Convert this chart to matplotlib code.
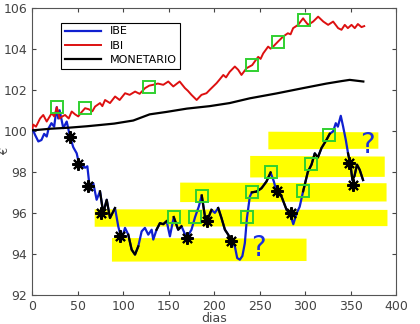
import numpy as np
import matplotlib
matplotlib.use("Agg")
import matplotlib.pyplot as plt

# IBE (blue)
ibe_d = [0, 3, 6.6, 10, 13, 15.8, 18, 21, 24, 26.8, 28.5, 30, 34, 37.8, 41.4, 45, 48.8, 51, 55, 58,
         60.5, 63.4, 67, 70.7, 74.4, 78, 81.8, 85.4, 90.9, 94.5, 98.2, 101.9, 105.5, 109.2, 112.9,
         116.5, 120.2, 123.8, 127.5, 131.2, 133, 136.6, 140.3, 144, 147.7, 151.3, 155.5, 160.4, 164,
         169.7, 175, 179, 183, 186.3, 189.8, 193, 197, 200.7, 204.4, 208, 211.8, 215.4, 219, 222.7,
         225.3, 228.2, 231, 233.7, 236, 239.2, 241.4, 246.6, 252, 257.5, 262, 265.6, 268.5, 274,
         279.6, 283, 287, 290.8, 294, 297.8, 303, 307, 310.6, 314, 318, 323.5, 327, 330.8, 333.7,
         336, 339.2, 341.8, 344.7, 347.2, 350, 352, 354.3, 357, 360, 363.7]
ibe_v = [100.1, 99.8, 99.48, 99.55, 99.85, 99.72, 100.13, 100.37, 100.2, 101.15, 100.6, 101.0, 100.13,
         100.45, 99.72, 99.2, 98.9, 98.45, 98.3, 98.2, 98.27, 97.1, 97.45, 96.64, 97.05, 96.0, 96.64,
         95.75, 96.24, 95.34, 94.7, 95.27, 94.94, 94.21, 93.97, 94.37, 95.1, 95.27, 94.94, 95.18, 94.7,
         95.18, 95.5, 95.45, 95.6, 94.86, 95.8, 95.18, 95.35, 94.78, 95.18, 95.8, 96.3, 96.85, 95.83,
         95.7, 96.15, 96.0, 96.24, 95.75, 95.18, 94.94, 94.6, 94.37, 93.8, 93.72, 93.9, 94.53, 95.75,
         96.8, 97.0, 97.04, 97.2, 97.53, 97.97, 97.53, 97.04, 96.8, 96.15, 96.0, 95.45, 96.0, 96.3,
         97.05, 98.0, 98.35, 98.9, 98.7, 99.16, 99.56, 99.85, 99.97, 100.37, 100.2, 100.73, 100.2,
         99.56, 98.9, 98.3, 97.6, 97.8, 98.35, 98.1, 97.6]

# IBI (red)
ibi_d = [0, 1, 4, 8.5, 12, 15.8, 21.3, 24, 27, 30, 33, 36, 40, 43.3, 47, 50.5, 54, 58, 62, 66, 69,
         74.4, 77, 80, 85.4, 91, 96, 102, 107, 113, 118, 124, 128.6, 133, 138, 144, 149.5, 155, 162,
         167.8, 171, 175, 180.7, 186, 191.5, 195, 202.6, 206, 210, 213, 217, 222.7, 226.4, 230, 235.6,
         241.8, 245, 248.4, 251, 253.9, 259.3, 262, 264.8, 270.3, 275.8, 281, 284, 286.8, 292.3,
         297.8, 299, 303.3, 308.8, 314.3, 320, 325.3, 330.8, 336.3, 340, 343.6, 347, 351, 354.6, 358,
         362, 365]
ibi_v = [100.1, 100.3, 100.2, 100.6, 100.77, 100.45, 100.86, 100.7, 101.15, 100.6, 100.7, 100.77, 100.6,
         100.94, 100.8, 100.7, 100.9, 101.1, 101.05, 100.95, 101.18, 101.35, 101.2, 101.5, 101.35,
         101.67, 101.5, 101.83, 101.75, 101.91, 101.8, 102.08, 102.2, 102.24, 102.3, 102.24, 102.4,
         102.16, 102.4, 102.08, 101.95, 101.75, 101.5, 101.75, 101.83, 101.99, 102.32, 102.5, 102.72,
         102.6, 102.87, 103.13, 102.97, 102.72, 103.05, 103.2, 103.4, 103.6, 103.5, 103.77, 104.1,
         104.0, 104.1, 104.35, 104.59, 104.75, 104.7, 105.0, 105.16, 105.48, 105.4, 105.16, 105.32,
         105.56, 105.32, 105.16, 105.32, 105.0, 104.92, 105.16, 105.0, 105.16, 105.0, 105.2, 105.05,
         105.1]

# MONETARIO (black)
mon_d = [0, 20, 40, 60, 74, 90, 111, 129, 147.7, 170, 195, 217, 239, 268.6, 298, 323.5, 340, 349, 364]
mon_v = [100.02, 100.1, 100.15, 100.22, 100.28, 100.35, 100.5, 100.8, 100.92, 101.08, 101.2, 101.35,
         101.58, 101.82, 102.08, 102.3, 102.42, 102.48, 102.4]

# day ranges where the IBE line is drawn over in black
black_ranges = [(74, 93), (105, 118), (136, 150), (155, 166), (172, 176), (185, 200), (203, 220),
                (240, 262), (266, 286), (296, 327), (346, 366)]

# green squares
sq_d = [26.8, 58, 128.6, 241.8, 270.3, 299, 155.5, 179, 186.3, 236, 241.4, 262, 297.8, 307, 326]
sq_v = [101.15, 101.1, 102.15, 103.2, 104.33, 105.4, 95.8, 95.8, 96.8, 95.78, 97.0, 98.0, 97.07, 98.37, 99.8]

# black asterisks
ast_d = [41.4, 50.5, 61.5, 76, 96.4, 169.7, 191.6, 218, 269, 284, 348, 352.3]
ast_v = [99.7, 98.4, 97.3, 96.0, 94.85, 94.78, 95.6, 94.63, 97.05, 96.0, 98.43, 97.35]

# yellow highlighter bands: x0, x1, low, high
bands = [(259, 380, 99.12, 99.98), (239, 387, 97.75, 98.8), (162, 389, 96.55, 97.5),
         (68, 390, 95.35, 96.2), (87, 301, 93.65, 94.8)]

# hand-written question marks
qm_d = [249, 368]
qm_v = [94.3, 99.3]

fig = plt.figure(figsize=(4.2, 3.24), dpi=100)
ax = fig.add_axes([0.077, 0.0895, 0.866, 0.887])

for x0, x1, lo, hi in bands:
    ax.fill_between([x0, x1], [lo, lo + 0.03], [hi, hi - 0.03], color="#ffff00", lw=0, zorder=1)

ax.plot(ibe_d, ibe_v, color="#1020d0", lw=1.6, label="IBE", zorder=3)
ax.plot(ibi_d, ibi_v, color="#dd1010", lw=1.4, label="IBI", zorder=3)
ax.plot(mon_d, mon_v, color="black", lw=1.6, label="MONETARIO", zorder=3)

d = np.array(ibe_d)
v = np.array(ibe_v)
mask = np.zeros(len(d), dtype=bool)
for a, b in black_ranges:
    mask |= (d >= a) & (d <= b)
ax.plot(d, np.where(mask, v, np.nan), color="black", lw=1.6, zorder=4)

ax.plot(sq_d, sq_v, ls="none", marker="s", ms=8, mfc="none", mec="#30d030", mew=1.4, zorder=5)
ax.plot(ast_d, ast_v, ls="none", marker=(8, 2, 0), ms=9, color="black", mew=1.5, zorder=5)

for x, y in zip(qm_d, qm_v):
    ax.text(x, y, "?", color="#1a2fe0", fontsize=20, ha="center", va="center", zorder=6)

ax.set_xlim(0, 400)
ax.set_ylim(92, 106)
ax.set_xticks(range(0, 401, 50))
ax.set_yticks(range(92, 107, 2))
ax.tick_params(direction="in", top=True, right=True, length=3, labelsize=9, colors="#444444")
for s in ax.spines.values():
    s.set_color("#555555")
ax.set_xlabel("dias", fontsize=9, color="#444444")
ax.xaxis.set_label_coords(0.5, -0.058)
ax.set_ylabel("€", fontsize=8, color="#444444")
ax.yaxis.set_label_coords(-0.06, 0.5)

leg = ax.legend(loc="upper left", bbox_to_anchor=(0.079, 0.948), borderaxespad=0, fontsize=8,
                handlelength=3.2, fancybox=False, edgecolor="black", framealpha=1,
                borderpad=0.35, labelspacing=0.4)
leg.get_frame().set_linewidth(0.8)

fig.savefig("out.png", dpi=100)
